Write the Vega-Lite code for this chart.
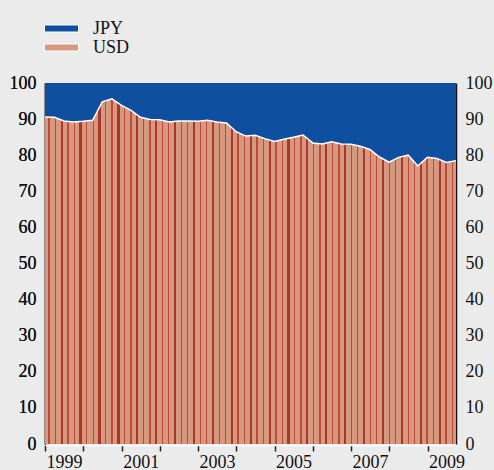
{
"$schema": "https://vega.github.io/schema/vega-lite/v6.json",
"width": 411, "height": 361,
"autosize": {"type": "none"},
"padding": {"left": 45, "top": 83, "right": 38, "bottom": 26},
"background": "#ebebeb",
"config": {"view": {"stroke": null}, "font": "Liberation Serif", "axis": {"labelFont": "Liberation Serif"}, "legend": {"labelFont": "Liberation Serif"}},
"data": {"values": [
{"date":"1998-12-31","USD":90.6,"JPY":9.4},
{"date":"1999-03-31","USD":90.5,"JPY":9.5},
{"date":"1999-06-30","USD":89.5,"JPY":10.5},
{"date":"1999-09-30","USD":89.2,"JPY":10.8},
{"date":"1999-12-31","USD":89.4,"JPY":10.6},
{"date":"2000-03-31","USD":89.7,"JPY":10.3},
{"date":"2000-06-30","USD":94.8,"JPY":5.2},
{"date":"2000-09-30","USD":95.6,"JPY":4.4},
{"date":"2000-12-31","USD":93.8,"JPY":6.2},
{"date":"2001-03-31","USD":92.4,"JPY":7.6},
{"date":"2001-06-30","USD":90.5,"JPY":9.5},
{"date":"2001-09-30","USD":89.9,"JPY":10.1},
{"date":"2001-12-31","USD":89.8,"JPY":10.2},
{"date":"2002-03-31","USD":89.2,"JPY":10.8},
{"date":"2002-06-30","USD":89.5,"JPY":10.5},
{"date":"2002-09-30","USD":89.5,"JPY":10.5},
{"date":"2002-12-31","USD":89.4,"JPY":10.6},
{"date":"2003-03-31","USD":89.7,"JPY":10.3},
{"date":"2003-06-30","USD":89.2,"JPY":10.8},
{"date":"2003-09-30","USD":88.9,"JPY":11.1},
{"date":"2003-12-31","USD":86.5,"JPY":13.5},
{"date":"2004-03-31","USD":85.3,"JPY":14.7},
{"date":"2004-06-30","USD":85.5,"JPY":14.5},
{"date":"2004-09-30","USD":84.6,"JPY":15.4},
{"date":"2004-12-31","USD":83.8,"JPY":16.2},
{"date":"2005-03-31","USD":84.4,"JPY":15.6},
{"date":"2005-06-30","USD":85.0,"JPY":15.0},
{"date":"2005-09-30","USD":85.6,"JPY":14.4},
{"date":"2005-12-31","USD":83.4,"JPY":16.6},
{"date":"2006-03-31","USD":83.1,"JPY":16.9},
{"date":"2006-06-30","USD":83.7,"JPY":16.3},
{"date":"2006-09-30","USD":83.1,"JPY":16.9},
{"date":"2006-12-31","USD":83.0,"JPY":17.0},
{"date":"2007-03-31","USD":82.5,"JPY":17.5},
{"date":"2007-06-30","USD":81.6,"JPY":18.4},
{"date":"2007-09-30","USD":79.5,"JPY":20.5},
{"date":"2007-12-31","USD":78.1,"JPY":21.9},
{"date":"2008-03-31","USD":79.4,"JPY":20.6},
{"date":"2008-06-30","USD":80.0,"JPY":20.0},
{"date":"2008-09-30","USD":77.0,"JPY":23.0},
{"date":"2008-12-31","USD":79.4,"JPY":20.6},
{"date":"2009-03-31","USD":79.1,"JPY":20.9},
{"date":"2009-06-30","USD":78.0,"JPY":22.0},
{"date":"2009-09-30","USD":78.5,"JPY":21.5}
]},
"layer": [
{
"transform": [{"fold": ["JPY", "USD"], "as": ["currency", "share"]}],
"mark": {"type": "area", "opacity": 1, "strokeWidth": 0},
"encoding": {
"x": {"field": "date", "type": "temporal",
 "axis": {"title": null, "tickCount": {"interval": "year", "step": 1}, "labelExpr": "year(datum.value) % 2 == 1 ? timeFormat(datum.value, '%Y') : ''", "labelOffset": 19, "labelFlush": false, "labelOverlap": false, "labelBound": false, "domainColor": "white", "domainWidth": 1.5, "tickColor": "#222", "tickSize": 6, "tickWidth": 1.5, "grid": false, "labelFont": "Liberation Serif", "labelFontSize": 18, "labelColor": "#111", "labelPadding": 2, "offset": 1, "labelAngle": 0}},
"y": {"field": "share", "type": "quantitative", "stack": "zero", "scale": {"domain": [0, 100]},
 "axis": {"orient": "left", "title": null, "values": [0,10,20,30,40,50,60,70,80,90,100], "ticks": false, "domainColor": "#111", "domainWidth": 1.5, "labelFont": "Liberation Serif", "labelFontSize": 18, "labelColor": "#111", "labelPadding": 9, "grid": false}},
"color": {"field": "currency", "type": "nominal",
 "scale": {"domain": ["JPY", "USD"], "range": ["#0f4fa0", "#d6987f"]},
 "legend": {"title": null, "orient": "none", "legendX": -1, "legendY": -64, "symbolType": "M-1,-0.206H1V0.206H-1Z", "symbolSize": 1156, "symbolStrokeColor": "white", "symbolStrokeWidth": 1, "symbolOpacity": 1, "labelFont": "Liberation Serif", "labelFontSize": 18, "labelColor": "#111", "labelOffset": 14, "rowPadding": 0, "clipHeight": 19, "padding": 0}},
"order": {"field": "currency", "sort": "descending"}
}
},
{
"mark": {"type": "area", "opacity": 1, "strokeWidth": 0, "fill": {"gradient": "linear", "x1": 0, "y1": 0, "x2": 1, "y2": 0, "stops": [
{"offset":0,"color":"#d6987f"},
{"offset":0.0085,"color":"#d6987f"},{"offset":0.0085,"color":"#bf4838"},{"offset":0.0115,"color":"#bf4838"},{"offset":0.0115,"color":"#d6987f"},
{"offset":0.0238,"color":"#d6987f"},{"offset":0.0238,"color":"#bf4838"},{"offset":0.0268,"color":"#bf4838"},{"offset":0.0268,"color":"#d6987f"},
{"offset":0.0379,"color":"#d6987f"},{"offset":0.0379,"color":"#a8362b"},{"offset":0.0433,"color":"#a8362b"},{"offset":0.0433,"color":"#d6987f"},
{"offset":0.0545,"color":"#d6987f"},{"offset":0.0545,"color":"#bf4838"},{"offset":0.0575,"color":"#bf4838"},{"offset":0.0575,"color":"#d6987f"},
{"offset":0.0698,"color":"#d6987f"},{"offset":0.0698,"color":"#bf4838"},{"offset":0.0728,"color":"#bf4838"},{"offset":0.0728,"color":"#d6987f"},
{"offset":0.0839,"color":"#d6987f"},{"offset":0.0839,"color":"#a8362b"},{"offset":0.0893,"color":"#a8362b"},{"offset":0.0893,"color":"#d6987f"},
{"offset":0.1004,"color":"#d6987f"},{"offset":0.1004,"color":"#bf4838"},{"offset":0.1034,"color":"#bf4838"},{"offset":0.1034,"color":"#d6987f"},
{"offset":0.1158,"color":"#d6987f"},{"offset":0.1158,"color":"#bf4838"},{"offset":0.1188,"color":"#bf4838"},{"offset":0.1188,"color":"#d6987f"},
{"offset":0.1299,"color":"#d6987f"},{"offset":0.1299,"color":"#a8362b"},{"offset":0.1353,"color":"#a8362b"},{"offset":0.1353,"color":"#d6987f"},
{"offset":0.1464,"color":"#d6987f"},{"offset":0.1464,"color":"#bf4838"},{"offset":0.1494,"color":"#bf4838"},{"offset":0.1494,"color":"#d6987f"},
{"offset":0.1618,"color":"#d6987f"},{"offset":0.1618,"color":"#bf4838"},{"offset":0.1648,"color":"#bf4838"},{"offset":0.1648,"color":"#d6987f"},
{"offset":0.1759,"color":"#d6987f"},{"offset":0.1759,"color":"#a8362b"},{"offset":0.1813,"color":"#a8362b"},{"offset":0.1813,"color":"#d6987f"},
{"offset":0.1924,"color":"#d6987f"},{"offset":0.1924,"color":"#bf4838"},{"offset":0.1954,"color":"#bf4838"},{"offset":0.1954,"color":"#d6987f"},
{"offset":0.2077,"color":"#d6987f"},{"offset":0.2077,"color":"#bf4838"},{"offset":0.2107,"color":"#bf4838"},{"offset":0.2107,"color":"#d6987f"},
{"offset":0.2219,"color":"#d6987f"},{"offset":0.2219,"color":"#a8362b"},{"offset":0.2273,"color":"#a8362b"},{"offset":0.2273,"color":"#d6987f"},
{"offset":0.2384,"color":"#d6987f"},{"offset":0.2384,"color":"#bf4838"},{"offset":0.2414,"color":"#bf4838"},{"offset":0.2414,"color":"#d6987f"},
{"offset":0.2537,"color":"#d6987f"},{"offset":0.2537,"color":"#bf4838"},{"offset":0.2567,"color":"#bf4838"},{"offset":0.2567,"color":"#d6987f"},
{"offset":0.2679,"color":"#d6987f"},{"offset":0.2679,"color":"#a8362b"},{"offset":0.2733,"color":"#a8362b"},{"offset":0.2733,"color":"#d6987f"},
{"offset":0.2844,"color":"#d6987f"},{"offset":0.2844,"color":"#bf4838"},{"offset":0.2874,"color":"#bf4838"},{"offset":0.2874,"color":"#d6987f"},
{"offset":0.2997,"color":"#d6987f"},{"offset":0.2997,"color":"#bf4838"},{"offset":0.3027,"color":"#bf4838"},{"offset":0.3027,"color":"#d6987f"},
{"offset":0.3138,"color":"#d6987f"},{"offset":0.3138,"color":"#a8362b"},{"offset":0.3192,"color":"#a8362b"},{"offset":0.3192,"color":"#d6987f"},
{"offset":0.3304,"color":"#d6987f"},{"offset":0.3304,"color":"#bf4838"},{"offset":0.3334,"color":"#bf4838"},{"offset":0.3334,"color":"#d6987f"},
{"offset":0.3457,"color":"#d6987f"},{"offset":0.3457,"color":"#bf4838"},{"offset":0.3487,"color":"#bf4838"},{"offset":0.3487,"color":"#d6987f"},
{"offset":0.3598,"color":"#d6987f"},{"offset":0.3598,"color":"#a8362b"},{"offset":0.3652,"color":"#a8362b"},{"offset":0.3652,"color":"#d6987f"},
{"offset":0.3763,"color":"#d6987f"},{"offset":0.3763,"color":"#bf4838"},{"offset":0.3793,"color":"#bf4838"},{"offset":0.3793,"color":"#d6987f"},
{"offset":0.3917,"color":"#d6987f"},{"offset":0.3917,"color":"#bf4838"},{"offset":0.3947,"color":"#bf4838"},{"offset":0.3947,"color":"#d6987f"},
{"offset":0.4058,"color":"#d6987f"},{"offset":0.4058,"color":"#a8362b"},{"offset":0.4112,"color":"#a8362b"},{"offset":0.4112,"color":"#d6987f"},
{"offset":0.4223,"color":"#d6987f"},{"offset":0.4223,"color":"#bf4838"},{"offset":0.4253,"color":"#bf4838"},{"offset":0.4253,"color":"#d6987f"},
{"offset":0.4377,"color":"#d6987f"},{"offset":0.4377,"color":"#bf4838"},{"offset":0.4407,"color":"#bf4838"},{"offset":0.4407,"color":"#d6987f"},
{"offset":0.4518,"color":"#d6987f"},{"offset":0.4518,"color":"#a8362b"},{"offset":0.4572,"color":"#a8362b"},{"offset":0.4572,"color":"#d6987f"},
{"offset":0.4683,"color":"#d6987f"},{"offset":0.4683,"color":"#bf4838"},{"offset":0.4713,"color":"#bf4838"},{"offset":0.4713,"color":"#d6987f"},
{"offset":0.4836,"color":"#d6987f"},{"offset":0.4836,"color":"#bf4838"},{"offset":0.4866,"color":"#bf4838"},{"offset":0.4866,"color":"#d6987f"},
{"offset":0.4978,"color":"#d6987f"},{"offset":0.4978,"color":"#a8362b"},{"offset":0.5032,"color":"#a8362b"},{"offset":0.5032,"color":"#d6987f"},
{"offset":0.5143,"color":"#d6987f"},{"offset":0.5143,"color":"#bf4838"},{"offset":0.5173,"color":"#bf4838"},{"offset":0.5173,"color":"#d6987f"},
{"offset":0.5296,"color":"#d6987f"},{"offset":0.5296,"color":"#bf4838"},{"offset":0.5326,"color":"#bf4838"},{"offset":0.5326,"color":"#d6987f"},
{"offset":0.5438,"color":"#d6987f"},{"offset":0.5438,"color":"#a8362b"},{"offset":0.5492,"color":"#a8362b"},{"offset":0.5492,"color":"#d6987f"},
{"offset":0.5603,"color":"#d6987f"},{"offset":0.5603,"color":"#bf4838"},{"offset":0.5633,"color":"#bf4838"},{"offset":0.5633,"color":"#d6987f"},
{"offset":0.5756,"color":"#d6987f"},{"offset":0.5756,"color":"#bf4838"},{"offset":0.5786,"color":"#bf4838"},{"offset":0.5786,"color":"#d6987f"},
{"offset":0.5897,"color":"#d6987f"},{"offset":0.5897,"color":"#a8362b"},{"offset":0.5951,"color":"#a8362b"},{"offset":0.5951,"color":"#d6987f"},
{"offset":0.6063,"color":"#d6987f"},{"offset":0.6063,"color":"#bf4838"},{"offset":0.6093,"color":"#bf4838"},{"offset":0.6093,"color":"#d6987f"},
{"offset":0.6216,"color":"#d6987f"},{"offset":0.6216,"color":"#bf4838"},{"offset":0.6246,"color":"#bf4838"},{"offset":0.6246,"color":"#d6987f"},
{"offset":0.6357,"color":"#d6987f"},{"offset":0.6357,"color":"#a8362b"},{"offset":0.6411,"color":"#a8362b"},{"offset":0.6411,"color":"#d6987f"},
{"offset":0.6523,"color":"#d6987f"},{"offset":0.6523,"color":"#bf4838"},{"offset":0.6553,"color":"#bf4838"},{"offset":0.6553,"color":"#d6987f"},
{"offset":0.6676,"color":"#d6987f"},{"offset":0.6676,"color":"#bf4838"},{"offset":0.6706,"color":"#bf4838"},{"offset":0.6706,"color":"#d6987f"},
{"offset":0.6817,"color":"#d6987f"},{"offset":0.6817,"color":"#a8362b"},{"offset":0.6871,"color":"#a8362b"},{"offset":0.6871,"color":"#d6987f"},
{"offset":0.6982,"color":"#d6987f"},{"offset":0.6982,"color":"#bf4838"},{"offset":0.7012,"color":"#bf4838"},{"offset":0.7012,"color":"#d6987f"},
{"offset":0.7136,"color":"#d6987f"},{"offset":0.7136,"color":"#bf4838"},{"offset":0.7166,"color":"#bf4838"},{"offset":0.7166,"color":"#d6987f"},
{"offset":0.7277,"color":"#d6987f"},{"offset":0.7277,"color":"#a8362b"},{"offset":0.7331,"color":"#a8362b"},{"offset":0.7331,"color":"#d6987f"},
{"offset":0.7442,"color":"#d6987f"},{"offset":0.7442,"color":"#bf4838"},{"offset":0.7472,"color":"#bf4838"},{"offset":0.7472,"color":"#d6987f"},
{"offset":0.7595,"color":"#d6987f"},{"offset":0.7595,"color":"#bf4838"},{"offset":0.7625,"color":"#bf4838"},{"offset":0.7625,"color":"#d6987f"},
{"offset":0.7737,"color":"#d6987f"},{"offset":0.7737,"color":"#a8362b"},{"offset":0.7791,"color":"#a8362b"},{"offset":0.7791,"color":"#d6987f"},
{"offset":0.7902,"color":"#d6987f"},{"offset":0.7902,"color":"#bf4838"},{"offset":0.7932,"color":"#bf4838"},{"offset":0.7932,"color":"#d6987f"},
{"offset":0.8055,"color":"#d6987f"},{"offset":0.8055,"color":"#bf4838"},{"offset":0.8085,"color":"#bf4838"},{"offset":0.8085,"color":"#d6987f"},
{"offset":0.8197,"color":"#d6987f"},{"offset":0.8197,"color":"#a8362b"},{"offset":0.8251,"color":"#a8362b"},{"offset":0.8251,"color":"#d6987f"},
{"offset":0.8362,"color":"#d6987f"},{"offset":0.8362,"color":"#bf4838"},{"offset":0.8392,"color":"#bf4838"},{"offset":0.8392,"color":"#d6987f"},
{"offset":0.8515,"color":"#d6987f"},{"offset":0.8515,"color":"#bf4838"},{"offset":0.8545,"color":"#bf4838"},{"offset":0.8545,"color":"#d6987f"},
{"offset":0.8656,"color":"#d6987f"},{"offset":0.8656,"color":"#a8362b"},{"offset":0.8710,"color":"#a8362b"},{"offset":0.8710,"color":"#d6987f"},
{"offset":0.8822,"color":"#d6987f"},{"offset":0.8822,"color":"#bf4838"},{"offset":0.8852,"color":"#bf4838"},{"offset":0.8852,"color":"#d6987f"},
{"offset":0.8975,"color":"#d6987f"},{"offset":0.8975,"color":"#bf4838"},{"offset":0.9005,"color":"#bf4838"},{"offset":0.9005,"color":"#d6987f"},
{"offset":0.9116,"color":"#d6987f"},{"offset":0.9116,"color":"#a8362b"},{"offset":0.9170,"color":"#a8362b"},{"offset":0.9170,"color":"#d6987f"},
{"offset":0.9282,"color":"#d6987f"},{"offset":0.9282,"color":"#bf4838"},{"offset":0.9312,"color":"#bf4838"},{"offset":0.9312,"color":"#d6987f"},
{"offset":0.9435,"color":"#d6987f"},{"offset":0.9435,"color":"#bf4838"},{"offset":0.9465,"color":"#bf4838"},{"offset":0.9465,"color":"#d6987f"},
{"offset":0.9576,"color":"#d6987f"},{"offset":0.9576,"color":"#a8362b"},{"offset":0.9630,"color":"#a8362b"},{"offset":0.9630,"color":"#d6987f"},
{"offset":0.9741,"color":"#d6987f"},{"offset":0.9741,"color":"#bf4838"},{"offset":0.9771,"color":"#bf4838"},{"offset":0.9771,"color":"#d6987f"},
{"offset":0.9895,"color":"#d6987f"},{"offset":0.9895,"color":"#bf4838"},{"offset":0.9925,"color":"#bf4838"},{"offset":0.9925,"color":"#d6987f"},
{"offset":1,"color":"#d6987f"}
]}},
"encoding": {
"x": {"field": "date", "type": "temporal",
 "axis": {"title": null, "tickCount": {"interval": "year", "step": 1}, "labelExpr": "year(datum.value) % 2 == 1 ? timeFormat(datum.value, '%Y') : ''", "labelOffset": 19, "labelFlush": false, "labelOverlap": false, "labelBound": false, "domainColor": "white", "domainWidth": 1.5, "tickColor": "#222", "tickSize": 6, "tickWidth": 1.5, "grid": false, "labelFont": "Liberation Serif", "labelFontSize": 18, "labelColor": "#111", "labelPadding": 2, "offset": 1, "labelAngle": 0}},
"y": {"field": "USD", "type": "quantitative", "scale": {"domain": [0, 100]},
 "axis": {"orient": "left", "title": null, "values": [0,10,20,30,40,50,60,70,80,90,100], "ticks": false, "domainColor": "#111", "domainWidth": 1.5, "labelFont": "Liberation Serif", "labelFontSize": 18, "labelColor": "#111", "labelPadding": 9, "grid": false}}
}
},
{
"mark": {"type": "line", "color": "white", "strokeWidth": 1.5},
"encoding": {
"x": {"field": "date", "type": "temporal",
 "axis": {"title": null, "tickCount": {"interval": "year", "step": 1}, "labelExpr": "year(datum.value) % 2 == 1 ? timeFormat(datum.value, '%Y') : ''", "labelOffset": 19, "labelFlush": false, "labelOverlap": false, "labelBound": false, "domainColor": "white", "domainWidth": 1.5, "tickColor": "#222", "tickSize": 6, "tickWidth": 1.5, "grid": false, "labelFont": "Liberation Serif", "labelFontSize": 18, "labelColor": "#111", "labelPadding": 2, "offset": 1, "labelAngle": 0}},
"y": {"field": "USD", "type": "quantitative", "scale": {"domain": [0, 100]},
 "axis": {"orient": "right", "title": null, "values": [0,10,20,30,40,50,60,70,80,90,100], "ticks": false, "domainColor": "#111", "domainWidth": 1.5, "labelFont": "Liberation Serif", "labelFontSize": 18, "labelColor": "#111", "labelPadding": 9, "grid": false}}
}
}
],
"resolve": {"axis": {"y": "independent"}}
}
